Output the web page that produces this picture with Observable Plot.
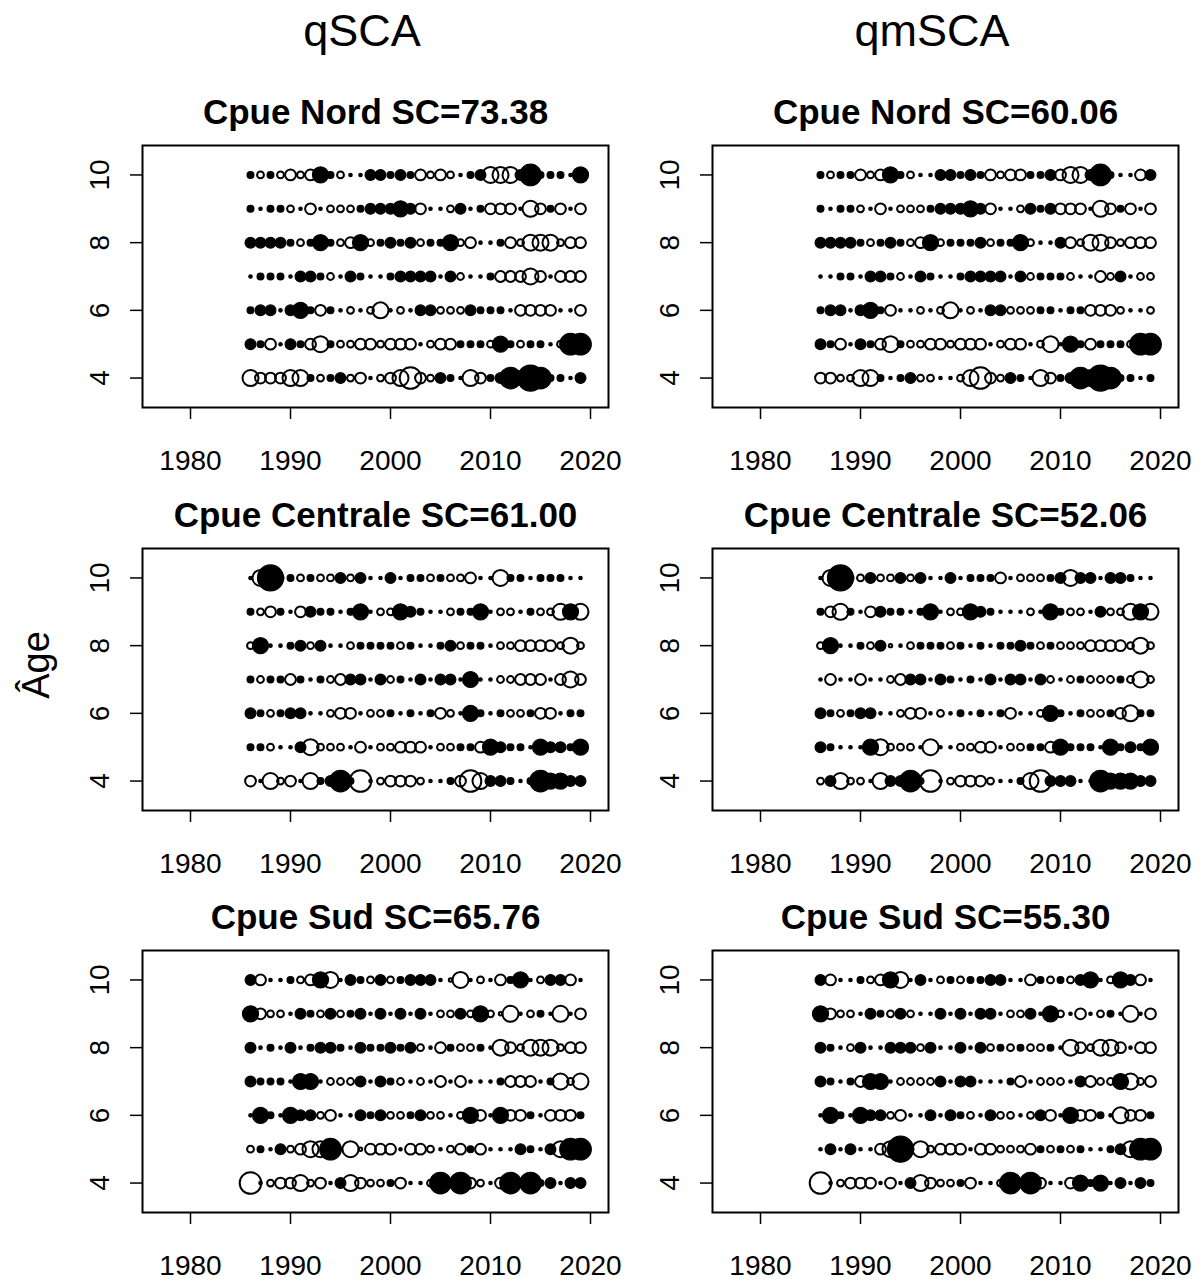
<!DOCTYPE html>
<html>
<head>
<meta charset="utf-8">
<script src="https://cdn.jsdelivr.net/npm/d3@7"></script>
<script src="https://cdn.jsdelivr.net/npm/@observablehq/plot@0.6"></script>
<style>
  html, body { margin: 0; padding: 0; background: #fff; }
  #page { position: relative; width: 1201px; height: 1282px; overflow: hidden;
          font-family: "Liberation Sans", Arial, Helvetica, sans-serif; color: #000; }
  .colhead { position: absolute; top: 8px; font-size: 45px; line-height: 1; transform: translateX(-50%); white-space: nowrap; }
  .ylab { position: absolute; left: 36px; top: 665px; font-size: 38px; line-height: 1;
          transform: translate(-50%, -50%) rotate(-90deg); white-space: nowrap; }
  .panel { position: absolute; }
  .panel svg { overflow: visible; }
</style>
</head>
<body>
<div id="page"></div>
<script>
// Years and ages of the residual matrices
const years = [1986, 1987, 1988, 1989, 1990, 1991, 1992, 1993, 1994, 1995,
               1996, 1997, 1998, 1999, 2000, 2001, 2002, 2003, 2004, 2005,
               2006, 2007, 2008, 2009, 2010, 2011, 2012, 2013, 2014, 2015,
               2016, 2017, 2018, 2019];
const ages = [4, 5, 6, 7, 8, 9, 10];
const xTicks = [1980, 1990, 2000, 2010, 2020];
const yTicks = [4, 6, 8, 10];

const models = ["qSCA", "qmSCA"];
const indices = ["Cpue Nord", "Cpue Centrale", "Cpue Sud"];
const scQSCA = ["73.38", "61.00", "65.76"];
const scQmSCA = ["60.06", "52.06", "55.30"];

// Residuals by age (rows 4..10), one value per year; > 0 drawn filled, < 0 drawn open
const nordQSCA = [
  [-1.1,-0.5,-0.5,-0.5,-1.1,-1.1,0.2,-0.2,0.2,0.5, -0.2,-0.5,0.05,-0.2,-0.5,-1.1,-2.0,-0.5,-0.2,0.5, 0.2,0.05,-1.1,-0.5,0.2,0.5,2.0,0.5,2.9,2.0, 0.2,0.2,0.05,0.5],
  [0.5,0.2,-0.5,0.05,0.5,0.2,-0.5,-1.1,0.2,-0.2, -0.2,-0.5,-0.5,-0.2,-0.5,-0.5,-0.5,0.05,-0.2,-0.5, -0.5,0.2,0.2,0.2,-0.2,1.1,0.2,-0.2,0.2,0.2, 0.05,-0.2,2.0,2.0],
  [0.2,0.5,0.5,0.05,0.5,1.1,0.2,-0.5,0.2,0.05, -0.2,0.05,-0.2,-1.1,0.05,-0.2,0.05,0.5,0.5,-0.2, -0.2,-0.2,0.5,0.2,0.2,0.2,0.05,-0.5,-0.5,-0.5, -0.5,0.05,0.05,-0.5],
  [0.05,0.2,0.2,0.2,0.05,0.5,0.5,0.2,-0.2,0.05, 0.5,0.2,0.05,0.05,0.2,0.5,0.5,0.5,0.5,0.05, 0.5,-0.2,0.05,0.05,0.2,-0.5,-0.5,-0.5,-1.1,-0.5, 0.05,-0.5,-0.5,-0.5],
  [0.5,0.5,0.5,0.5,0.2,-0.2,0.2,1.1,0.2,-0.2, -0.5,1.1,-0.2,0.2,0.5,0.2,0.5,-0.2,0.2,0.2, 1.1,-0.2,-0.5,0.05,0.05,0.2,-0.5,-0.2,-1.1,-1.1, -1.1,-0.2,-0.5,-0.5],
  [0.2,0.05,0.2,0.2,-0.2,0.05,-0.5,0.05,-0.2,-0.2, -0.2,0.2,0.5,0.5,0.5,1.1,0.5,-0.5,0.05,0.05, -0.2,0.5,0.05,0.2,-0.5,-0.5,-0.5,0.05,-1.1,-0.5, 0.2,-0.5,0.05,-0.5],
  [0.2,-0.2,0.2,-0.2,-0.5,-0.2,-0.5,1.1,0.2,-0.2, 0.05,0.05,0.5,0.5,0.2,0.5,0.2,-0.5,-0.2,-0.5, -0.2,0.05,0.2,0.5,-1.1,-1.1,-1.1,0.5,2.0,0.2, 0.2,0.2,0.05,1.1]
];
const nordQmSCA = [
  [-0.5,-0.5,-0.2,-0.2,-1.1,-1.1,0.2,0.05,0.2,0.5, -0.2,-0.2,0.05,0.05,-0.2,-1.1,-2.0,-0.5,-0.2,0.5, 0.2,0.05,-1.1,-0.5,0.2,0.5,2.0,-1.1,2.9,2.0, 0.2,0.2,0.05,0.2],
  [0.5,0.2,-0.5,0.05,0.5,0.2,-0.5,-1.1,0.2,-0.2, -0.2,-0.5,-0.5,-0.2,-0.5,-0.5,-0.5,0.05,-0.2,-0.5, -0.5,0.05,-0.2,-1.1,0.05,1.1,0.2,-0.5,0.2,0.2, 0.2,-0.2,2.0,2.0],
  [0.2,0.5,0.5,0.05,0.5,1.1,0.2,-0.5,0.05,0.05, -0.2,0.05,-0.2,-1.1,0.05,-0.2,0.05,0.5,0.5,-0.2, -0.2,-0.2,0.2,0.2,0.05,0.2,0.2,-0.5,-0.5,-0.5, -0.2,0.05,0.05,-0.2],
  [0.05,0.05,0.2,0.2,0.05,0.5,0.5,0.2,-0.2,0.05, 0.5,0.2,0.05,0.05,0.2,0.5,0.5,0.5,0.5,0.05, 0.5,-0.2,0.2,0.2,0.2,-0.2,0.05,0.05,-0.5,-0.2, 0.5,0.05,-0.2,-0.2],
  [0.5,0.5,0.5,0.5,0.2,-0.2,0.2,0.5,0.2,-0.2, -0.5,1.1,-0.2,0.2,0.2,0.2,0.5,-0.2,0.2,0.2, 1.1,-0.2,0.05,0.05,0.5,-0.5,-0.2,-1.1,-1.1,-0.5, -0.2,-0.5,-0.5,-0.5],
  [0.2,0.05,0.2,0.2,-0.2,0.05,-0.5,0.05,-0.2,-0.2, -0.2,0.2,0.5,0.5,0.5,1.1,0.5,-0.5,0.05,0.05, -0.2,0.5,0.2,0.5,-0.5,-0.5,-0.5,0.05,-1.1,-0.5, 0.2,-0.5,0.05,-0.5],
  [0.2,-0.2,0.2,0.2,-0.5,-0.2,-0.5,1.1,0.2,-0.2, 0.05,0.05,0.5,0.5,0.2,0.5,0.2,-0.5,-0.2,-0.5, -0.5,0.2,0.2,0.5,-0.5,-1.1,-1.1,0.5,2.0,0.2, 0.05,0.05,-0.5,0.5]
];
const centraleQSCA = [
  [-0.5,0.05,-1.1,-0.2,-0.5,0.05,-1.1,0.2,0.5,2.0, 0.2,-2.0,0.05,-0.2,-0.5,-0.5,-0.5,-0.2,0.05,0.05, 0.2,-0.5,-2.0,-1.1,0.5,0.5,0.2,0.05,0.2,2.0, 1.1,1.1,0.5,0.5],
  [0.2,0.2,-0.2,0.05,0.05,0.5,-1.1,-0.2,-0.2,-0.2, 0.05,-0.5,0.05,-0.2,-0.2,-0.5,-0.5,-0.5,0.05,-0.2, -0.2,0.2,0.2,-0.5,1.1,0.5,0.2,0.2,0.05,1.1, 0.5,0.5,0.2,1.1],
  [0.5,0.2,-0.2,0.2,0.5,0.5,0.05,0.05,-0.2,-0.5, -0.5,0.05,-0.2,-0.2,0.2,0.05,0.2,0.05,0.2,-0.5, -0.2,0.05,1.1,0.2,0.05,0.2,-0.2,-0.2,0.2,-0.5, -0.5,0.05,0.2,0.2],
  [0.2,-0.2,0.2,0.2,-0.5,0.2,0.05,0.2,-0.2,-0.5, 0.5,0.5,0.05,0.5,-0.2,0.2,0.05,0.5,0.05,0.5, 0.5,0.05,1.1,0.05,0.05,-0.2,-0.2,-0.5,-0.5,-0.5, 0.05,-0.5,-1.1,-0.5],
  [-0.2,1.1,0.05,0.05,0.2,0.5,-0.2,0.5,0.05,0.05, -0.2,0.2,0.2,0.2,0.2,-0.2,0.2,0.05,0.05,0.2, 0.5,-0.2,0.2,0.2,0.05,-0.2,-0.2,-0.5,-0.5,-0.5, -0.5,-0.2,-1.1,-0.2],
  [0.2,-0.2,-0.5,0.2,0.05,-0.5,0.5,0.2,0.2,0.05, 0.2,1.1,0.05,-0.2,-0.2,1.1,0.5,0.2,0.05,0.05, -0.2,0.2,0.2,1.1,0.05,-0.2,-0.2,0.05,0.2,-0.2, -0.2,-1.1,1.1,-1.1],
  [0.05,-1.1,2.9,0.2,0.2,-0.2,0.2,-0.2,-0.2,0.5, -0.2,0.5,0.05,0.05,0.5,0.05,0.2,0.2,-0.2,0.2, -0.2,-0.2,-0.5,0.05,0.05,-1.1,0.2,0.2,0.05,0.2, 0.2,0.2,0.05,0.05]
];
const centraleQmSCA = [
  [-0.2,0.5,-1.1,-0.2,-0.2,0.05,-1.1,0.5,0.5,2.0, 0.2,-2.0,0.05,-0.2,-0.5,-0.5,-0.5,-0.2,0.05,0.05, 0.2,-1.1,-2.0,0.5,0.5,0.5,0.05,0.05,2.0,1.1, 1.1,1.1,0.5,0.5],
  [0.5,0.2,0.05,0.05,0.05,1.1,-1.1,-0.2,-0.2,-0.2, 0.05,-1.1,0.05,0.05,-0.2,-0.2,-0.5,-0.5,0.05,-0.2, -0.2,0.2,0.2,-0.5,1.1,0.2,0.2,0.2,0.05,1.1, 0.2,0.5,0.2,1.1],
  [0.5,0.2,-0.2,0.2,0.5,0.5,0.05,0.05,-0.2,-0.5, -0.5,0.05,-0.2,0.05,0.2,0.05,0.2,0.05,0.2,-0.5, 0.05,0.05,-0.2,1.1,0.2,0.05,0.2,-0.2,-0.2,0.2, -0.5,-1.1,0.2,0.2],
  [0.05,-0.5,0.05,0.05,-0.5,0.05,0.05,-0.2,-0.5,0.5, 0.5,0.05,0.5,0.2,0.05,0.2,0.05,0.5,0.05,0.5, 0.5,0.05,0.5,-0.2,0.05,-0.2,0.2,-0.2,-0.2,-0.2, 0.2,-0.2,-1.1,-0.2],
  [-0.2,1.1,0.05,0.05,0.2,-0.2,0.5,-0.05,0.05,-0.2, 0.2,0.2,0.2,-0.2,0.2,0.05,0.2,0.05,0.2,0.2, 0.5,0.2,-0.2,0.2,-0.2,-0.2,-0.2,-0.5,-0.5,-0.5, -0.5,-0.2,-1.1,-0.2],
  [0.2,-0.5,-1.1,0.2,0.05,-0.5,0.5,0.2,0.2,0.05, 0.2,1.1,0.05,-0.2,-0.2,1.1,0.5,0.2,0.05,0.05, 0.05,-0.2,0.05,1.1,0.2,-0.2,-0.2,0.05,0.5,-0.2, -0.2,-1.1,1.1,-1.1],
  [0.05,-1.1,2.9,0.2,-0.2,0.5,-0.2,-0.2,0.5,-0.2, 0.5,0.05,0.05,0.5,0.05,0.2,0.2,0.2,-0.5,0.05, -0.2,-0.2,-0.2,0.2,0.5,-1.1,0.5,0.5,0.05,0.5, 0.5,0.2,0.05,0.05]
];
const sudQSCA = [
  [-2.0,0.05,-0.2,-0.5,-0.5,-1.1,-0.2,-0.5,0.05,0.5, -1.1,-0.5,-0.2,-0.2,0.2,-0.5,0.05,0.05,-0.2,2.0, 0.2,2.0,-0.5,-0.2,0.05,-0.5,2.0,0.2,2.0,0.2, 0.5,0.05,0.5,0.5],
  [-0.2,0.2,0.05,0.5,-0.2,-0.5,-1.1,-1.1,2.0,0.05, -1.1,-0.05,-0.5,-0.5,-0.5,0.05,-0.5,-0.5,-0.2,0.05, -0.2,-0.5,0.2,-0.5,0.05,0.05,0.05,0.5,0.2,0.05, 0.5,-1.1,2.0,2.0],
  [0.05,1.1,0.2,0.05,1.1,0.5,0.5,-0.2,-0.5,0.05, 0.05,0.5,0.2,0.5,-0.2,-0.2,0.2,0.5,-0.2,-0.2, 0.05,-0.2,1.1,-0.5,0.05,1.1,-0.5,-0.5,0.2,0.05, -0.5,-0.5,-0.5,0.2],
  [0.5,0.2,0.2,0.2,0.05,1.1,1.1,0.05,-0.2,-0.2, -0.2,0.5,0.05,0.5,0.2,-0.2,0.05,-0.2,0.05,-0.5, 0.05,-0.5,0.05,0.05,0.05,0.2,-0.5,-0.5,-0.5,0.05, 0.2,-1.1,-0.2,-1.1],
  [0.5,0.05,0.2,0.05,0.5,0.05,0.2,0.5,0.5,0.2, 0.05,0.5,0.2,0.2,0.5,0.2,0.5,-0.2,0.05,-0.5, 0.2,-0.2,-0.2,0.2,0.05,-1.1,-0.5,-0.2,-1.1,-1.1, -1.1,-0.2,-0.5,-0.5],
  [1.1,-0.5,-0.2,-0.2,0.05,0.5,0.2,-0.2,0.5,-0.2, 0.2,0.5,0.05,0.5,0.05,0.5,0.05,0.5,0.05,-0.2, -0.2,0.5,-0.2,1.1,-0.2,-0.05,-1.1,0.05,-0.2,0.2, 0.05,-1.1,0.05,-0.5],
  [0.5,-0.5,0.05,0.05,0.2,-0.2,-0.5,1.1,-1.1,0.05, 0.5,0.2,-0.2,0.5,-0.2,0.2,0.5,0.5,0.5,0.05, -0.05,-1.1,0.05,-0.2,0.05,-0.5,0.2,1.1,0.05,-0.2, 0.5,0.5,-0.5,0.05]
];
const sudQmSCA = [
  [-2.0,0.05,-0.2,-0.5,-0.5,-0.5,0.05,-0.5,0.05,0.5, -1.1,-0.5,-0.2,-0.2,0.2,-0.5,0.05,0.05,-0.2,2.0, 0.2,2.0,-0.5,0.05,0.05,-0.5,1.1,0.2,1.1,0.05, 0.5,0.05,0.5,0.2],
  [0.05,0.5,0.05,0.5,0.05,0.05,-0.5,-1.1,2.9,0.2, -1.1,-0.2,-0.5,-0.5,-0.5,0.05,-0.5,-0.5,-0.2,-0.2, -0.2,-0.5,0.2,-0.2,0.2,-0.2,0.2,0.05,0.05,0.2, 0.5,-1.1,2.0,2.0],
  [0.05,1.1,0.2,0.05,1.1,0.5,0.5,-0.2,-0.5,0.05, 0.05,0.5,0.05,0.5,0.2,-0.2,0.05,0.5,-0.2,-0.2, 0.05,-0.2,0.5,-0.5,0.05,1.1,-0.5,-0.5,0.2,0.05, -1.1,-0.5,-0.5,0.2],
  [0.5,0.2,0.05,0.2,-0.5,1.1,1.1,0.05,-0.2,-0.2, -0.2,-0.2,0.5,0.05,0.5,0.5,0.05,0.05,0.05,0.2, -0.5,0.05,-0.2,-0.2,-0.2,0.05,0.5,-0.5,-0.2,-0.2, 1.1,-1.1,-0.2,-0.5],
  [0.5,0.2,0.05,-0.2,0.5,0.05,0.05,0.5,0.5,0.5, -0.2,0.5,0.05,0.05,0.5,0.05,0.5,-0.2,0.2,-0.2, 0.2,-0.2,-0.2,0.2,0.05,-1.1,-0.5,-0.2,-1.1,-1.1, -0.5,0.05,-0.5,-0.5],
  [1.1,-0.5,-0.2,-0.2,0.05,0.5,0.2,-0.2,0.5,-0.2, 0.05,0.05,0.5,0.05,0.5,0.05,0.5,0.5,0.05,-0.2, -0.2,0.5,0.05,1.1,-0.2,0.05,-0.5,0.05,-0.2,0.2, 0.05,-1.1,0.05,-0.5],
  [0.5,-0.5,0.05,0.05,0.2,-0.2,-0.5,1.1,-1.1,0.05, 0.5,0.05,-0.2,0.2,-0.2,0.2,0.2,0.5,0.5,0.05, 0.05,-0.5,0.2,-0.2,0.2,-0.2,0.5,1.1,0.05,-0.2, 1.1,0.5,-0.5,0.05]
];

const residuals = [
  [nordQSCA, nordQmSCA],
  [centraleQSCA, centraleQmSCA],
  [sudQSCA, sudQmSCA]
];
const scores = [scQSCA, scQmSCA];

// Page layout (panel frames)
const frameLeft = [142, 712];
const frameTop = [145, 548, 950];
const frameW = 466, frameH = 262;
const mL = 70, mR = 14, mT = 60, mB = 80;
const font = '"Liberation Sans", Arial, Helvetica, sans-serif';

const page = document.getElementById("page");

models.forEach((m, c) => {
  const h = document.createElement("div");
  h.className = "colhead";
  h.style.left = (frameLeft[c] + frameW / 2 - 13) + "px";
  h.textContent = m;
  page.appendChild(h);
});
const yl = document.createElement("div");
yl.className = "ylab";
yl.textContent = "Âge";
page.appendChild(yl);

function tidy(matrix) {
  const out = [];
  matrix.forEach((row, i) => row.forEach((v, j) => out.push({year: years[j], age: ages[i], res: v})));
  return out;
}

indices.forEach((name, r) => {
  models.forEach((m, c) => {
    const data = tidy(residuals[r][c]);
    const title = `${name} SC=${scores[c][r]}`;
    const chart = Plot.plot({
      width: mL + frameW + mR,
      height: mT + frameH + mB,
      marginLeft: mL, marginRight: mR, marginTop: mT, marginBottom: mB,
      x: {domain: [1975.2, 2021.8]},
      y: {domain: [3.13, 10.87]},
      r: {type: "sqrt", domain: [0, 2.9], range: [0, 13]},
      style: {fontFamily: font, fontSize: "28px", color: "#000", background: "transparent"},
      marks: [
        Plot.frame({stroke: "#000", strokeWidth: 2}),
        Plot.axisX({ticks: xTicks, tickSize: 12, tickPadding: 31, tickFormat: d => String(d),
                    label: null, fontSize: 28, strokeWidth: 1.5}),
        Plot.axisY({ticks: yTicks, tickSize: 12, tickFormat: () => "", label: null, strokeWidth: 1.5}),
        Plot.text(yTicks, {y: d => d, frameAnchor: "left", dx: -42, rotate: -90,
                           text: d => String(d), fontSize: 28, lineAnchor: "middle", textAnchor: "middle"}),
        Plot.text([title], {frameAnchor: "top", dy: -33, text: d => d, fontSize: 35,
                            fontWeight: "bold", lineAnchor: "middle"}),
        Plot.dot(data.filter(d => d.res < 0), {x: "year", y: "age", r: d => Math.abs(d.res),
                 fill: "none", stroke: "#000", strokeWidth: 2}),
        Plot.dot(data.filter(d => d.res >= 0), {x: "year", y: "age", r: d => Math.abs(d.res),
                 fill: "#000", stroke: "#000", strokeWidth: 1.2})
      ]
    });
    const wrap = document.createElement("div");
    wrap.className = "panel";
    wrap.style.left = (frameLeft[c] - mL) + "px";
    wrap.style.top = (frameTop[r] - mT) + "px";
    wrap.appendChild(chart);
    page.appendChild(wrap);
  });
});
</script>
</body>
</html>
